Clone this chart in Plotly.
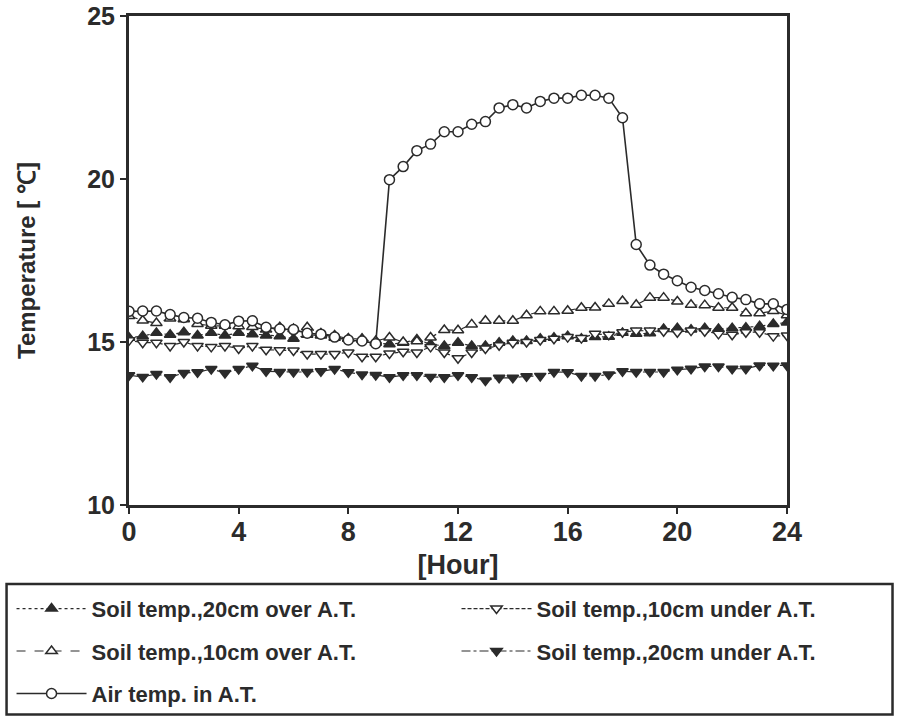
import plotly.graph_objects as go

hours = [i * 0.5 for i in range(49)]

air_temp = [15.94, 15.95, 15.95, 15.84, 15.75, 15.73, 15.60, 15.53, 15.64, 15.65,
            15.45, 15.40, 15.38, 15.27, 15.24, 15.15, 15.06, 15.03, 14.95,
            19.98, 20.38, 20.87, 21.07, 21.45, 21.45, 21.68, 21.76, 22.18, 22.28,
            22.18, 22.38, 22.48, 22.48, 22.57, 22.57, 22.48, 21.88, 17.99,
            17.36, 17.08, 16.88, 16.68, 16.58, 16.48, 16.37, 16.30, 16.17, 16.17, 16.00]

soil_20_over = [15.13, 15.18, 15.28, 15.22, 15.30, 15.20, 15.28, 15.20, 15.28, 15.24,
                15.20, 15.18, 15.10, 15.22, 15.20, 15.13, 15.10, 15.10, 14.98, 14.93,
                14.98, 15.08, 14.93, 14.88, 14.98, 14.88, 14.88, 14.98, 15.03, 15.03,
                15.10, 15.13, 15.18, 15.10, 15.15, 15.16, 15.28, 15.25, 15.27, 15.40,
                15.42, 15.38, 15.42, 15.40, 15.42, 15.44, 15.48, 15.55, 15.60]

soil_10_over = [15.80, 15.66, 15.58, 15.72, 15.70, 15.55, 15.50, 15.50, 15.48, 15.46,
                15.38, 15.45, 15.40, 15.45, 15.26, 15.20, 15.10, 15.08, 15.03, 15.14,
                15.00, 15.02, 15.14, 15.37, 15.36, 15.54, 15.65, 15.65, 15.65, 15.82,
                15.94, 15.94, 15.96, 16.05, 16.06, 16.17, 16.26, 16.14, 16.36, 16.36,
                16.24, 16.14, 16.13, 16.05, 16.05, 15.88, 15.88, 15.95, 15.82]

soil_10_under = [15.05, 14.98, 14.98, 14.88, 15.00, 14.88, 14.85, 14.88, 14.80, 14.88,
                 14.76, 14.75, 14.74, 14.63, 14.63, 14.63, 14.68, 14.55, 14.55, 14.65,
                 14.70, 14.68, 14.85, 14.68, 14.50, 14.68, 14.80, 14.90, 14.98, 15.00,
                 15.06, 15.10, 15.15, 15.12, 15.25, 15.22, 15.30, 15.35, 15.35, 15.33,
                 15.30, 15.35, 15.33, 15.25, 15.22, 15.30, 15.30, 15.18, 15.20]

soil_20_under = [13.98, 13.93, 14.02, 13.92, 14.05, 14.07, 14.17, 14.05, 14.17, 14.27,
                 14.10, 14.08, 14.08, 14.08, 14.10, 14.17, 14.07, 14.00, 13.99, 13.92,
                 13.98, 13.98, 13.93, 13.92, 13.98, 13.92, 13.82, 13.90, 13.90, 13.95,
                 13.96, 14.08, 14.07, 13.96, 13.96, 14.00, 14.10, 14.08, 14.08, 14.08,
                 14.15, 14.18, 14.25, 14.25, 14.18, 14.18, 14.28, 14.27, 14.28]

x_ticks = [0, 4, 8, 12, 16, 20, 24]
y_ticks = [10, 15, 20, 25]

INK = "#2b2b2b"
FAM = "Liberation Sans, Arial, sans-serif"

# layout geometry
W, H = 897, 727
L, R, T, B = 126, 110, 16, 216
PW, PH = W - L - R, H - T - B


def px_x(p):
    return (p - L) / PW


def px_y(p):
    return (H - B - p) / PH


fig = go.Figure()

series = [
    ("Soil temp.,20cm over A.T.", soil_20_over, "dot", "triangle-up", INK, "legend", 8, 616),
    ("Soil temp.,10cm under A.T.", soil_10_under, "4px,2px", "triangle-down", "white", "legend2", 455, 616),
    ("Soil temp.,10cm over A.T.", soil_10_over, "dash", "triangle-up", "white", "legend3", 8, 659),
    ("Soil temp.,20cm under A.T.", soil_20_under, "dashdot", "triangle-down", INK, "legend4", 455, 659),
]
legend_pos = {}
for name, vals, dash, sym, fill, lg, lx, ly in series:
    fig.add_trace(go.Scatter(
        x=hours, y=vals, name=name, mode="lines+markers",
        line=dict(color=INK, width=1.2, dash=dash),
        marker=dict(symbol=sym, size=10, color=fill, line=dict(color=INK, width=1.5)),
        legend=lg,
    ))
    legend_pos[lg] = (lx, ly)

fig.add_trace(go.Scatter(
    x=hours, y=air_temp, name="Air temp. in A.T.", mode="lines+markers",
    line=dict(color=INK, width=1.6),
    marker=dict(symbol="circle", size=10, color="white", line=dict(color=INK, width=1.5)),
    legend="legend5",
))
legend_pos["legend5"] = (8, 702)

layout_legends = {}
for lg, (lx, ly) in legend_pos.items():
    layout_legends[lg] = dict(
        x=px_x(lx), y=px_y(ly), xanchor="left", yanchor="middle",
        bgcolor="rgba(0,0,0,0)", borderwidth=0,
        font=dict(family=FAM, size=22, color=INK, weight="bold"),
        itemwidth=70,
    )

fig.update_layout(
    width=W, height=H,
    margin=dict(l=L, r=R, t=T, b=B),
    paper_bgcolor="white", plot_bgcolor="white",
    font=dict(family=FAM, color=INK),
    showlegend=True,
    **layout_legends,
)

# legend frame
fig.add_shape(type="rect", xref="paper", yref="paper",
              x0=px_x(3), x1=px_x(893), y0=px_y(723), y1=px_y(591),
              line=dict(color=INK, width=2.5), fillcolor="rgba(0,0,0,0)", layer="above")

fig.update_xaxes(
    range=[0, 24], tickvals=x_ticks, ticktext=[str(v) for v in x_ticks],
    showgrid=False, zeroline=False, automargin=False,
    showline=True, linecolor=INK, linewidth=3, mirror=True,
    ticks="outside", ticklen=6, tickwidth=2, tickcolor=INK, ticklabelstandoff=-5,
    tickfont=dict(family=FAM, size=27, color=INK, weight="bold"),
    title=dict(text="[Hour]", font=dict(family=FAM, size=27, color=INK, weight="bold"), standoff=9),
)
fig.update_yaxes(
    range=[10, 25], tickvals=y_ticks, ticktext=[str(v) for v in y_ticks],
    showgrid=False, zeroline=False, automargin=False,
    showline=True, linecolor=INK, linewidth=3, mirror=True,
    ticks="outside", ticklen=6, tickwidth=2, tickcolor=INK,
    tickfont=dict(family=FAM, size=25, color=INK, weight="bold"),
    title=dict(text="Temperature [ ℃]", font=dict(family=FAM, size=24, color=INK, weight="bold"), standoff=45),
)

fig.write_html("out.html")
